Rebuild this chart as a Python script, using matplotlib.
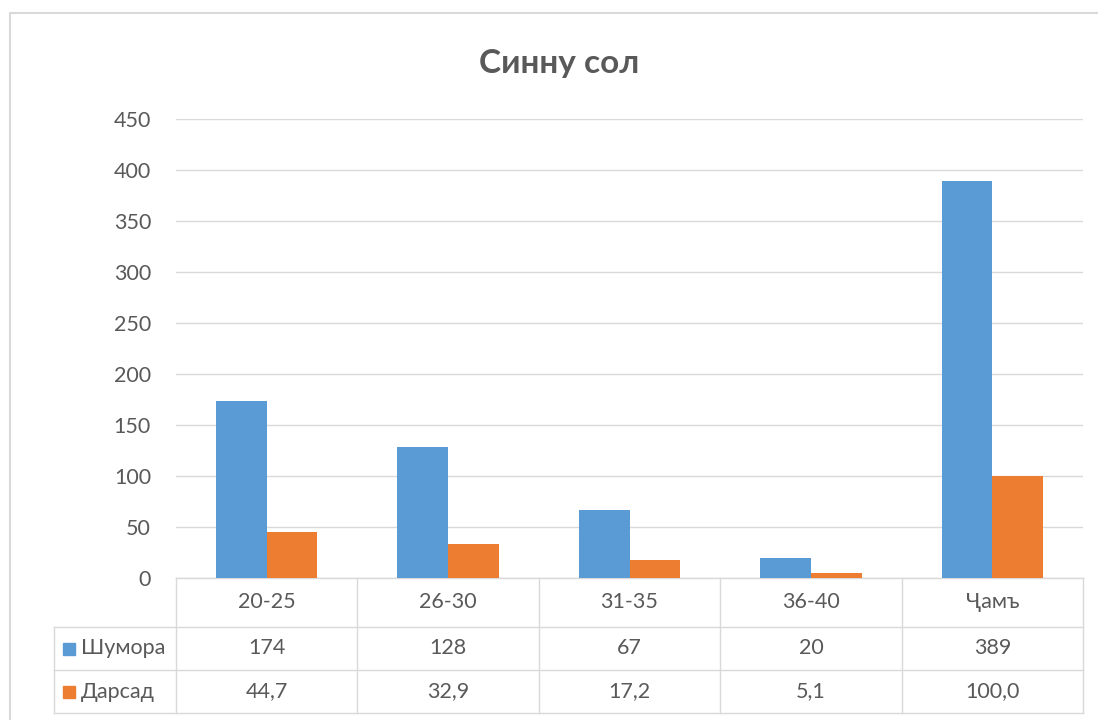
import matplotlib.pyplot as plt
from matplotlib.patches import Rectangle

plt.rcParams['font.family'] = ['Lato', 'DejaVu Sans']

title = 'Синну сол'
categories = ['20-25', '26-30', '31-35', '36-40', 'Ҷамъ']
series_names = ['Шумора', 'Дарсад']
shumora = [174, 128, 67, 20, 389]
darsad = [44.7, 32.9, 17.2, 5.1, 100.0]
darsad_labels = ['44,7', '32,9', '17,2', '5,1', '100,0']
yticks = [0, 50, 100, 150, 200, 250, 300, 350, 400, 450]

BLUE = '#5B9BD5'
ORANGE = '#ED7D31'
TXT = '#595959'
GRID = '#D9D9D9'
FS = 15.5

W, H = 1098, 720
fig = plt.figure(figsize=(W / 100, H / 100), dpi=100)

# outer chart frame (runs past the right/bottom edge in the reference)
fig.patches.append(Rectangle((10 / W, -0.1), 1.2, 1.1 - 13 / H,
                             transform=fig.transFigure, fill=False,
                             edgecolor=GRID, linewidth=1.5))

ax = fig.add_axes([176 / W, 1 - 578 / H, (1083 - 176) / W, (578 - 119) / H])

x = list(range(len(categories)))
bw = 0.28
ax.bar([i - bw / 2 for i in x], shumora, bw, color=BLUE, zorder=3)
ax.bar([i + bw / 2 for i in x], darsad, bw, color=ORANGE, zorder=3)

ax.set_xlim(-0.5, len(categories) - 0.5)
ax.set_ylim(0, 450)
ax.set_yticks(yticks)
ax.set_yticklabels([str(v) for v in yticks], fontsize=FS, color=TXT)
ax.tick_params(axis='y', length=0, pad=18)
ax.set_xticks([])
ax.grid(axis='y', color=GRID, linewidth=1, zorder=0)
for s in ax.spines.values():
    s.set_visible(False)

fig.text(559 / W, 1 - 63 / H, title, ha='center', va='center',
         fontsize=24, fontweight='bold', color=TXT)

# data table under the axis
tr = ax.get_xaxis_transform()
ph = 578 - 119
r0, r1, r2, r3 = 0, -49 / ph, -92 / ph, -135 / ph
left = (54 - 176) / ((1083 - 176) / 5) - 0.5
xr = len(categories) - 0.5
lk = dict(color=GRID, linewidth=1, transform=tr, clip_on=False)

ax.plot([-0.5, xr], [r0, r0], **lk)
for yy in (r1, r2, r3):
    ax.plot([left, xr], [yy, yy], **lk)
for b in range(len(categories) + 1):
    ax.plot([b - 0.5, b - 0.5], [r0, r3], **lk)
ax.plot([left, left], [r1, r3], **lk)

tk = dict(ha='center', va='center', fontsize=FS, color=TXT,
          transform=tr, clip_on=False)
for i, c in enumerate(categories):
    ax.text(i, (r0 + r1) / 2, c, **tk)
    ax.text(i, (r1 + r2) / 2, str(shumora[i]), **tk)
    ax.text(i, (r2 + r3) / 2, darsad_labels[i], **tk)

px = (1083 - 176) / 5
for name, col, (ya, yb) in zip(series_names, [BLUE, ORANGE], [(r1, r2), (r2, r3)]):
    ym = (ya + yb) / 2
    ax.plot([left + 15 / px], [ym], marker='s', markersize=9, color=col,
            transform=tr, clip_on=False, linestyle='none')
    ax.text(left + 27 / px, ym, name, ha='left', va='center', fontsize=FS,
            color=TXT, transform=tr, clip_on=False)

fig.savefig('out.png', dpi=100)
